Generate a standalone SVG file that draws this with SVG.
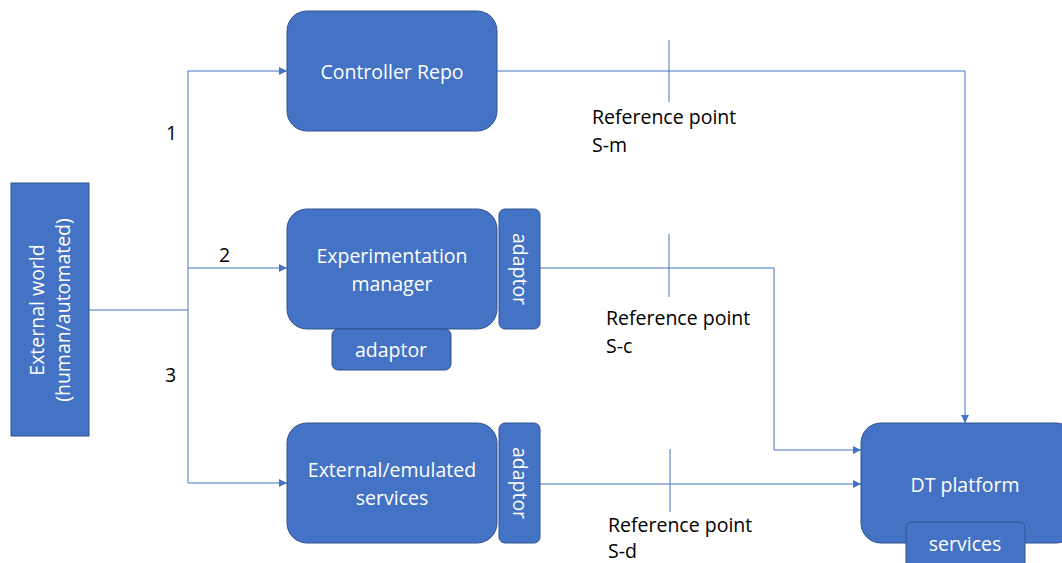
<svg xmlns="http://www.w3.org/2000/svg" width="1062" height="563" viewBox="0 0 1062 563">
<defs>
<marker id="arr" viewBox="0 0 10 10" refX="10" refY="5" markerWidth="8" markerHeight="8" markerUnits="userSpaceOnUse" orient="auto">
<path d="M0,0 L10,5 L0,10 z" fill="#4472C4"/>
</marker>
<style>
.box{fill:#4472C4;stroke:#2F528F;stroke-width:1}
.wt{fill:#FFFFFF;font-family:"Open Sans","Noto Sans",sans-serif;font-size:19.5px;text-anchor:middle}
.bt{fill:#000000;font-family:"Open Sans","Noto Sans",sans-serif;font-size:19.5px}
.ln{fill:none;stroke:#4472C4;stroke-width:1}
</style>
</defs>
<rect width="1062" height="563" fill="#FFFFFF"/>
<g id="connectors">
<path class="ln" d="M89,310 H188"/>
<path class="ln" d="M188,71 V483"/>
<path class="ln" d="M188,71 H287" marker-end="url(#arr)"/>
<path class="ln" d="M188,268 H287" marker-end="url(#arr)"/>
<path class="ln" d="M188,483 H287" marker-end="url(#arr)"/>
<path class="ln" d="M497,71 H965 V423" marker-end="url(#arr)"/>
<path class="ln" d="M540,268 H774 V450 H861" marker-end="url(#arr)"/>
<path class="ln" d="M540,484 H861" marker-end="url(#arr)"/>
<path class="ln" d="M669,40 V102"/>
<path class="ln" d="M669,234 V297"/>
<path class="ln" d="M670,449 V512"/>
</g>
<g id="labels">
<text class="bt" x="166" y="140">1</text>
<text class="bt" x="219" y="262">2</text>
<text class="bt" x="165" y="382">3</text>
<text class="bt" x="592" y="124">Reference point</text>
<text class="bt" x="592" y="152">S-m</text>
<text class="bt" x="606" y="325">Reference point</text>
<text class="bt" x="606" y="353">S-c</text>
<text class="bt" x="608" y="532">Reference point</text>
<text class="bt" x="608" y="558">S-d</text>
</g>
<g id="external-world">
<rect class="box" x="11" y="183" width="78" height="253"/>
<g transform="translate(50,310) rotate(-90)">
<text class="wt" x="0" y="-6">External world</text>
<text class="wt" x="0" y="20">(human/automated)</text>
</g>
</g>
<g id="controller-repo">
<rect class="box" x="287" y="11" width="210" height="120" rx="20"/>
<text class="wt" x="392" y="79">Controller Repo</text>
</g>
<g id="experimentation-manager">
<rect class="box" x="287" y="209" width="210" height="120" rx="20"/>
<text class="wt" x="392" y="263">Experimentation</text>
<text class="wt" x="392" y="291">manager</text>
</g>
<g id="exp-adaptor-right">
<rect class="box" x="499" y="209" width="41" height="120" rx="6"/>
<text class="wt" transform="translate(520,269) rotate(90)" x="0" y="7">adaptor</text>
</g>
<g id="exp-adaptor-bottom">
<rect class="box" x="332" y="329" width="119" height="41" rx="6"/>
<text class="wt" x="391" y="357">adaptor</text>
</g>
<g id="external-services">
<rect class="box" x="287" y="423" width="210" height="120" rx="20"/>
<text class="wt" x="392" y="477">External/emulated</text>
<text class="wt" x="392" y="505">services</text>
</g>
<g id="ext-adaptor">
<rect class="box" x="499" y="423" width="41" height="120" rx="6"/>
<text class="wt" transform="translate(520,483) rotate(90)" x="0" y="7">adaptor</text>
</g>
<g id="dt-platform">
<rect class="box" x="861" y="423" width="215" height="120" rx="20"/>
<text class="wt" x="965" y="492">DT platform</text>
</g>
<g id="services">
<rect class="box" x="906" y="522" width="119" height="50" rx="6"/>
<text class="wt" x="965" y="551">services</text>
</g>
</svg>
